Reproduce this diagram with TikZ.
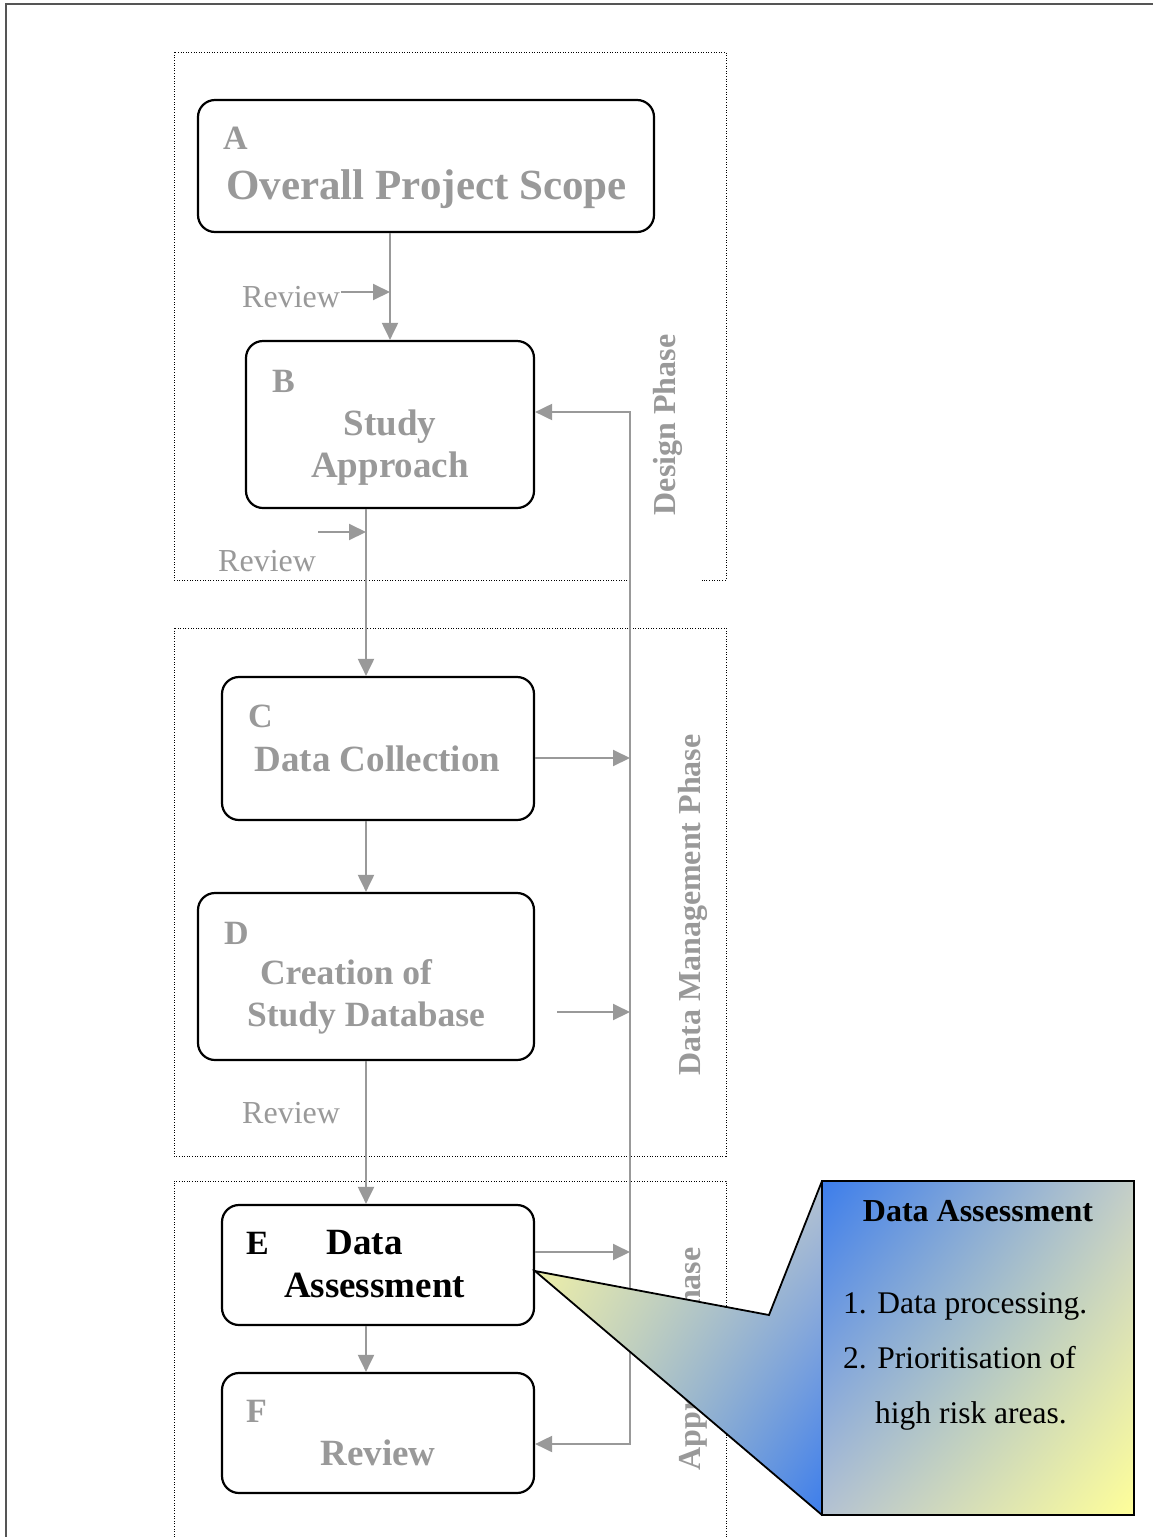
\documentclass[tikz,border=0pt]{standalone}
\usepackage{fontspec}
\setmainfont{Liberation Serif}
\usetikzlibrary{arrows.meta,shadings}
\definecolor{txtgray}{HTML}{999999}
\definecolor{lngray}{HTML}{999999}
\definecolor{framegray}{HTML}{555555}
\definecolor{cblue}{HTML}{3C7DEB}
\definecolor{cyellow}{HTML}{FFFF99}
\definecolor{cmidA}{HTML}{C4CEC8}
\definecolor{cmidB}{HTML}{B4C2D2}
\definecolor{ptyellow}{HTML}{F8F8A0}
\definecolor{ptmid}{HTML}{D0D6BC}
\begin{document}
\begin{tikzpicture}[x=1pt,y=-1pt,
  stagebox/.style={draw=black, line width=2.2pt, rounded corners=17pt, inner sep=0pt},
  phasebox/.style={draw=black, line width=1pt, dash pattern=on 1pt off 1.6pt},
  letter/.style={font=\fontsize{34}{40}\selectfont\bfseries, text=txtgray, inner sep=0pt, anchor=base west},
  boxtxt/.style={font=\fontsize{37}{44}\selectfont\bfseries, text=txtgray, inner sep=0pt, anchor=base},
  revlbl/.style={font=\fontsize{32}{38}\selectfont, text=txtgray, inner sep=0pt, anchor=base west},
  phaselbl/.style={font=\fontsize{32}{38}\selectfont\bfseries, text=txtgray, inner sep=0pt, rotate=90},
  garrow/.style={draw=lngray, line width=2pt, -{Triangle[length=17pt,width=16pt]}},
  gline/.style={draw=lngray, line width=2pt},
  calltxt/.style={font=\fontsize{31.5}{38}\selectfont, text=black, inner sep=0pt, anchor=base west}
]
\useasboundingbox (0,0) rectangle (1153,1537);
\fill[white] (0,0) rectangle (1153,1537);

% outer frame
\draw[framegray, line width=2.2pt] (1153,4) -- (6,4) -- (6,1537);

% phase frames
\draw[phasebox] (630,580) -- (174,580) -- (174,52) -- (726,52) -- (726,580) -- (702,580);
\draw[phasebox] (174,628) rectangle (726,1156);
\draw[phasebox] (174,1540) -- (174,1181) -- (726,1181) -- (726,1540);

% phase labels
\node[phaselbl] (pdesign) at (668,425) {Design Phase};
\node[phaselbl] (pdata) at (693,905) {Data Management Phase};
\node[phaselbl] (pappr) at (693,1359) {Appraisal Phase};

% stage boxes
\node[stagebox, minimum width=456pt, minimum height=132pt] (A) at (426,166) {};
\node[stagebox, minimum width=288pt, minimum height=167pt] (B) at (390,424.5) {};
\node[stagebox, minimum width=312pt, minimum height=143pt] (C) at (378,748.5) {};
\node[stagebox, minimum width=336pt, minimum height=167pt] (D) at (366,976.5) {};
\node[stagebox, minimum width=312pt, minimum height=120pt] (E) at (378,1265) {};
\node[stagebox, minimum width=312pt, minimum height=120pt] (F) at (378,1433) {};

% box texts
\node[letter] (Al) at (223,149) {A};
\node[boxtxt, font=\fontsize{43}{50}\selectfont\bfseries] (At) at (426.5,199) {Overall Project Scope};
\node[letter] (Bl) at (272,392) {B};
\node[boxtxt] (Bt1) at (390,435) {Study};
\node[boxtxt] (Bt2) at (390,477) {Approach};
\node[letter] (Cl) at (248,727) {C};
\node[boxtxt] (Ct) at (377.5,771) {Data Collection};
\node[letter] (Dl) at (224,944) {D};
\node[boxtxt, font=\fontsize{35.5}{42}\selectfont\bfseries] (Dt1) at (346,984) {Creation of};
\node[boxtxt, font=\fontsize{35.5}{42}\selectfont\bfseries] (Dt2) at (366,1026) {Study Database};
\node[letter, text=black] (El) at (246,1254) {E};
\node[boxtxt, text=black] (Et1) at (364.5,1254) {Data};
\node[boxtxt, text=black] (Et2) at (374.5,1297) {Assessment};
\node[letter] (Fl) at (246,1422) {F};
\node[boxtxt] (Ft) at (378,1465) {Review};

% review labels
\node[revlbl] (rv1) at (242,307) {Review};
\node[revlbl] (rv2) at (218,571) {Review};
\node[revlbl] (rv3) at (242,1123) {Review};

% main flow
\coordinate (mx) at (366,0);
\draw[garrow] (B.north |- A.south) -- (B.north);
\draw[garrow] (B.south -| mx) -- (C.north -| mx);
\draw[garrow] (C.south -| mx) -- (D.north -| mx);
\draw[garrow] (D.south -| mx) -- (E.north -| mx);
\draw[garrow] (E.south -| mx) -- (F.north -| mx);

% review arrows
\coordinate (ra1) at (341,292);
\draw[garrow] (ra1) -- (ra1 -| B.north);
\coordinate (ra2) at (318,532);
\draw[garrow] (ra2) -- (ra2 -| mx);

% feedback loop
\coordinate (fbtop) at (630,412);
\coordinate (fbbot) at (630,1444);
\draw[gline, {Triangle[length=17pt,width=16pt]}-{Triangle[length=17pt,width=16pt]}]
  (B.east |- fbtop) -- (fbtop) -- (fbbot) -- (F.east |- fbbot);
\coordinate (c1) at (630,758);
\draw[garrow] (C.east |- c1) -- (c1);
\coordinate (d0) at (557,1012);
\coordinate (d1) at (630,1012);
\draw[garrow] (d0) -- (d1);
\coordinate (e1) at (630,1252);
\draw[garrow] (E.east |- e1) -- (e1);

% callout
\coordinate (tip) at (535,1271);
\coordinate (notch) at (769,1315);
\coordinate (ctl) at (822,1181);
\coordinate (cbl) at (822,1515);
\shade[upper left=ptyellow, upper right=cmidB, lower left=ptmid, lower right=cblue]
  (ctl) -- (notch) -- (tip) -- (cbl) -- cycle;
\draw[black, line width=1.8pt, line join=miter] (ctl) -- (notch) -- (tip) -- (cbl);
\node[draw=black, line width=2pt, minimum width=312pt, minimum height=334pt, inner sep=0pt,
  shade, upper left=cblue, upper right=cmidA, lower left=cmidB, lower right=cyellow] (cbox) at (978,1348) {};
\node[calltxt, font=\fontsize{32}{38}\selectfont\bfseries, anchor=base] (ct0) at (978,1221) {Data Assessment};
\node[calltxt] (ct1) at (843,1313) {1. Data processing.};
\node[calltxt] (ct2) at (843,1368) {2. Prioritisation of};
\node[calltxt] (ct3) at (875,1423) {high risk areas.};
\end{tikzpicture}
\end{document}
